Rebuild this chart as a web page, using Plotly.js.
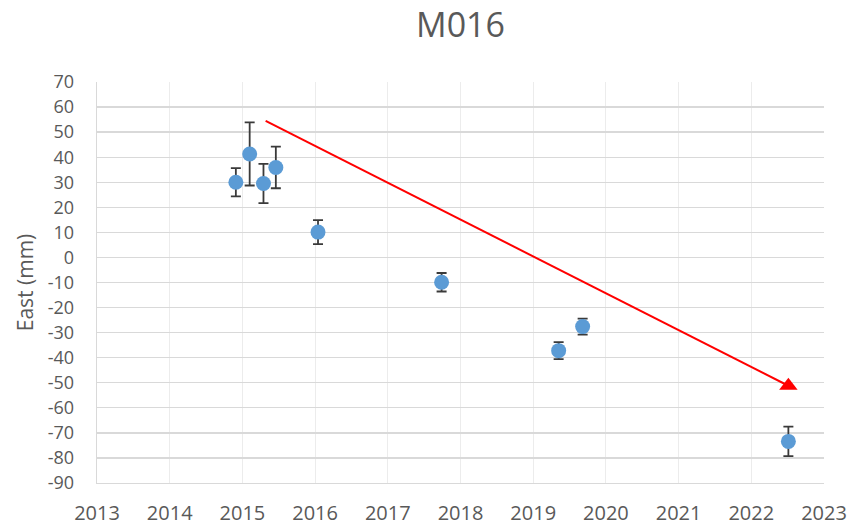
<!DOCTYPE html>
<html>
<head>
<meta charset="utf-8">
<script src="https://cdn.plot.ly/plotly-3.0.1.min.js"></script>
<style>html,body{margin:0;padding:0;background:#fff;}#chart{width:851px;height:528px;}</style>
</head>
<body>
<div id="chart"></div>
<script>
// Observation epochs (decimal years) and East displacement (mm)
const epochs = [2014.91, 2015.10, 2015.29, 2015.46, 2016.04, 2017.74, 2019.35, 2019.68, 2022.51];
const eastMm = [30.0, 41.3, 29.5, 35.9, 10.1, -9.9, -37.2, -27.6, -73.4];
const eastErr = [5.6, 12.6, 7.8, 8.3, 4.8, 3.7, 3.4, 3.2, 5.9];
// Trend arrow (start, end)
const arrowX = [2015.32, 2022.51];
const arrowY = [54.5, -51.2];
// Axis ticks
const xTicks = [2013, 2014, 2015, 2016, 2017, 2018, 2019, 2020, 2021, 2022, 2023];
const yTicks = [70, 60, 50, 40, 30, 20, 10, 0, -10, -20, -30, -40, -50, -60, -70, -80, -90];

const font = 'Open Sans, Liberation Sans, sans-serif';
const grey = '#595959';

const traces = [
  {
    x: epochs, y: eastMm, type: 'scatter', mode: 'markers',
    marker: {color: '#5B9BD5', size: 15},
    error_y: {type: 'data', array: eastErr, visible: true, color: '#3a3a3a', thickness: 1.8, width: 5},
    hoverinfo: 'x+y', showlegend: false
  },
  {
    x: arrowX, y: arrowY, type: 'scatter', mode: 'lines',
    line: {color: '#FF0000', width: 2},
    showlegend: false, hoverinfo: 'skip'
  },
  {
    x: arrowX.slice(1), y: arrowY.slice(1), type: 'scatter', mode: 'markers',
    marker: {color: '#FF0000', size: 16, symbol: 'triangle-up', opacity: 1, line: {width: 0}},
    showlegend: false, hoverinfo: 'skip'
  }
];

const layout = {
  width: 851, height: 528,
  margin: {l: 97, r: 27, t: 82, b: 45},
  paper_bgcolor: '#ffffff', plot_bgcolor: '#ffffff',
  font: {family: font, color: grey},
  title: {text: 'M016', font: {family: font, size: 34, color: grey},
          x: 0.5, xanchor: 'center', xref: 'paper', y: 1 - 25/528, yref: 'container', yanchor: 'middle'},
  xaxis: {
    range: [2013, 2023], tickvals: xTicks, ticktext: xTicks.map(String),
    showgrid: true, gridcolor: '#ececec', gridwidth: 1,
    showline: true, linecolor: '#d9d9d9', linewidth: 1.3,
    zeroline: false, ticks: '', ticklabelstandoff: 12,
    tickfont: {family: font, size: 20, color: grey}, fixedrange: true
  },
  yaxis: {
    range: [-90, 70], tickvals: yTicks, ticktext: yTicks.map(String),
    showgrid: true, gridcolor: '#d9d9d9', gridwidth: 1.3,
    showline: true, linecolor: '#d9d9d9', linewidth: 1.3,
    zeroline: false, ticks: '', ticklabelstandoff: 18,
    tickfont: {family: font, size: 18, color: grey},
    title: {text: 'East (mm)', font: {family: font, size: 21, color: grey}, standoff: 8},
    automargin: false, fixedrange: true
  }
};

Plotly.newPlot('chart', traces, layout, {displayModeBar: false, staticPlot: true});
</script>
</body>
</html>
